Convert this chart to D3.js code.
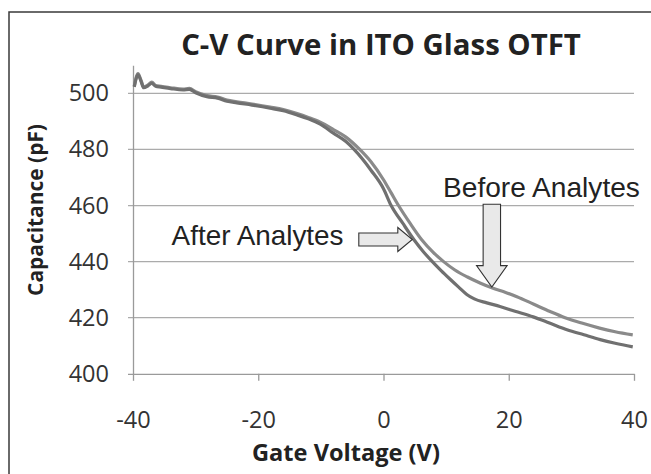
<!DOCTYPE html>
<html>
<head>
<meta charset="utf-8">
<script src="https://cdn.jsdelivr.net/npm/d3@7/dist/d3.min.js"></script>
<style>
  html, body { margin: 0; padding: 0; background: #fff; }
  svg { display: block; }
</style>
</head>
<body>
<svg id="chart" width="651" height="474"></svg>
<script>
// ---- data ----
const chartTitle = "C-V Curve in ITO Glass OTFT";
const xTitle = "Gate Voltage (V)";
const yTitle = "Capacitance (pF)";
const xTicks = [-40, -20, 0, 20, 40];
const yTicks = [400, 420, 440, 460, 480, 500];

const beforeVoltage = [-39.8, -39.2, -38.7, -38.3, -37.6, -37.0, -36.4, -35.5, -34.0, -32.0, -31.0, -30.0, -28.2, -26.5, -25.0, -23.4, -21.0, -18.1, -16.0, -13.8, -12.0, -10.1, -8.0, -6.0, -3.8, -2.0, 0.0, 1.2, 2.4, 4.2, 6.1, 7.9, 9.6, 11.4, 13.4, 15.5, 17.5, 19.5, 21.3, 24.0, 26.6, 29.0, 31.8, 34.5, 37.0, 39.8];
const beforeCap     = [502.5, 507.0, 504.5, 502.3, 503.0, 504.0, 502.8, 502.5, 502.0, 501.5, 501.8, 500.6, 499.2, 498.7, 497.6, 497.0, 496.2, 495.1, 494.2, 492.8, 491.4, 489.7, 487.1, 484.4, 480.0, 475.6, 469.2, 464.6, 460.0, 453.8, 447.8, 443.4, 440.0, 437.0, 434.5, 432.3, 430.5, 429.0, 427.5, 424.8, 422.2, 420.0, 418.0, 416.3, 415.0, 413.9];

const afterVoltage = [-39.8, -39.2, -38.7, -38.3, -37.6, -37.0, -36.4, -35.5, -34.0, -32.0, -31.0, -30.0, -28.2, -26.5, -25.0, -23.4, -21.0, -18.1, -16.0, -13.8, -12.0, -10.1, -8.0, -6.0, -4.7, -2.0, 0.0, 1.2, 3.1, 4.9, 6.3, 7.8, 9.2, 10.6, 12.0, 13.3, 14.5, 16.5, 18.6, 21.0, 23.9, 26.5, 29.3, 32.0, 34.6, 37.0, 39.8];
const afterCap     = [502.3, 506.6, 504.2, 502.0, 502.7, 503.6, 502.5, 502.2, 501.7, 501.2, 501.4, 500.2, 498.8, 498.3, 497.2, 496.6, 495.8, 494.7, 493.8, 492.3, 490.9, 489.0, 485.8, 482.8, 480.0, 472.6, 466.0, 460.1, 453.6, 447.7, 443.7, 440.0, 436.8, 433.8, 430.9, 428.3, 426.7, 425.3, 424.0, 422.3, 420.3, 418.1, 415.7, 413.9, 412.2, 410.9, 409.6];

const seriesNames = ["Before Analytes", "After Analytes"];
// annotation arrow tips (data units)
const beforeTip = [17.3, 430.9];
const afterTip = [4.6, 447.9];

// ---- layout ----
const svg = d3.select("#chart");
const x = d3.scaleLinear().domain([-40, 40]).range([133, 634]);
const y = d3.scaleLinear().domain([400, 510]).range([373.8, 65.3]);

const calibriLike = "'Open Sans', 'Noto Sans', sans-serif";
const arialLike = "'Liberation Sans', Arial, sans-serif";
const fmt = d => String(d);

// border
svg.append("rect").attr("x", 9).attr("y", 12).attr("width", 700).attr("height", 500)
  .attr("fill", "#fff").attr("stroke", "#3a3a3a").attr("stroke-width", 1.5);

// gridlines (with left tick stubs)
const gridG = svg.append("g");
gridG.selectAll("line").data(yTicks.filter(d => d > 400)).join("line")
  .attr("x1", x(-40) - 5).attr("x2", x(40))
  .attr("y1", d => y(d)).attr("y2", d => y(d))
  .attr("stroke", "#ababab").attr("stroke-width", 1.3);

// x axis
const xAxis = d3.axisBottom(x).tickValues(xTicks).tickSize(7).tickPadding(31).tickFormat(fmt);
const gx = svg.append("g").attr("transform", `translate(0,${y(400)})`).call(xAxis);
gx.select(".domain").attr("stroke", "#9a9a9a").attr("stroke-width", 1.3).attr("d", `M${x(-40)-5},0.5H${x(40)}`);
gx.selectAll(".tick line").attr("stroke", "#9a9a9a").attr("stroke-width", 1.3);
gx.selectAll(".tick text").attr("fill", "#333").attr("font-family", calibriLike).attr("font-size", 23.5).attr("dy", "0.71em");

// y axis
const yAxis = d3.axisLeft(y).tickValues(yTicks).tickSize(0).tickPadding(24).tickFormat(fmt);
const gy = svg.append("g").attr("transform", `translate(${x(-40)},0)`).call(yAxis);
gy.select(".domain").attr("stroke", "#9a9a9a").attr("stroke-width", 1.3);
gy.selectAll(".tick text").attr("fill", "#333").attr("font-family", calibriLike).attr("font-size", 23.5);

// lines
const line = d3.line().x(d => x(d[0])).y(d => y(d[1])).curve(d3.curveMonotoneX);
const beforeData = beforeVoltage.map((v, i) => [v, beforeCap[i]]);
const afterData = afterVoltage.map((v, i) => [v, afterCap[i]]);
svg.append("path").datum(beforeData).attr("d", line)
  .attr("fill", "none").attr("stroke", "#8a8a8a").attr("stroke-width", 3.2).attr("stroke-linejoin", "round");
svg.append("path").datum(afterData).attr("d", line)
  .attr("fill", "none").attr("stroke", "#707070").attr("stroke-width", 3.2).attr("stroke-linejoin", "round");

// title
function fit(sel, w) {
  const fs = +sel.attr("font-size");
  const len = sel.node().getComputedTextLength();
  sel.attr("font-size", fs * w / len);
}
svg.append("text").text(chartTitle).attr("x", 381).attr("y", 55)
  .attr("text-anchor", "middle").attr("font-family", calibriLike).attr("font-weight", "bold")
  .attr("font-size", 30).attr("fill", "#222").call(fit, 400);

svg.append("text").text(xTitle).attr("x", 346).attr("y", 461)
  .attr("text-anchor", "middle").attr("font-family", calibriLike).attr("font-weight", "bold")
  .attr("font-size", 24).attr("fill", "#222").call(fit, 188);

svg.append("text").text(yTitle)
  .attr("transform", "translate(43,210) rotate(-90)")
  .attr("text-anchor", "middle").attr("font-family", calibriLike).attr("font-weight", "bold")
  .attr("font-size", 22).attr("fill", "#222").call(fit, 172);

// annotations
const arrowFill = "#e9e9e9", arrowStroke = "#333";
// after arrow (pointing right)
{
  const tx = x(afterTip[0]), ty = y(afterTip[1]);
  const bodyL = tx - 53.5, headL = tx - 14.5, bh = 6.5, hh = 12;
  svg.append("path")
    .attr("d", `M${bodyL},${ty-bh}H${headL}V${ty-hh}L${tx},${ty}L${headL},${ty+hh}V${ty+bh}H${bodyL}Z`)
    .attr("fill", arrowFill).attr("stroke", arrowStroke).attr("stroke-width", 1.1);
  svg.append("text").text(seriesNames[1]).attr("x", 343.5).attr("y", 245)
    .attr("text-anchor", "end").attr("font-family", arialLike).attr("font-size", 24)
    .attr("fill", "#222").call(fit, 172);
}
// before arrow (pointing down)
{
  const tx = x(beforeTip[0]), ty = y(beforeTip[1]);
  const bodyT = 204.3, headT = ty - 21.5, bw = 8.7, hw = 15.3;
  svg.append("path")
    .attr("d", `M${tx-bw},${bodyT}H${tx+bw}V${headT}H${tx+hw}L${tx},${ty}L${tx-hw},${headT}H${tx-bw}Z`)
    .attr("fill", arrowFill).attr("stroke", arrowStroke).attr("stroke-width", 1.1);
  svg.append("text").text(seriesNames[0]).attr("x", 443).attr("y", 196.7)
    .attr("text-anchor", "start").attr("font-family", arialLike).attr("font-size", 24)
    .attr("fill", "#222").call(fit, 197);
}
</script>
</body>
</html>
